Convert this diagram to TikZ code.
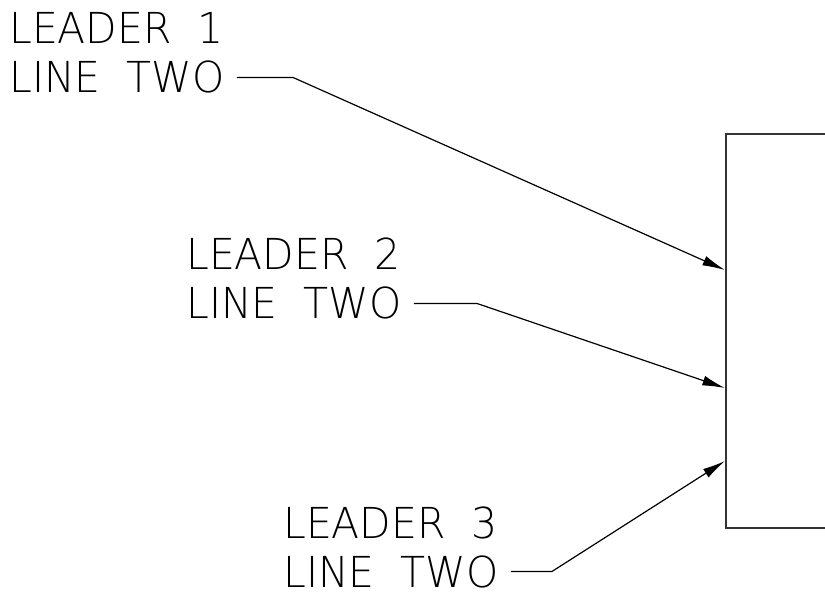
\documentclass[tikz,border=0pt]{standalone}
\usepackage{fontspec}
\setmainfont{DejaVu Sans ExtraLight}[FakeStretch=0.96]
\usetikzlibrary{arrows.meta}
\begin{document}
\begin{tikzpicture}[x=0.75pt, y=-0.75pt,
    etiquette/.style={anchor=base west, inner sep=0pt, font=\fontsize{32}{38}\selectfont},
    fleche/.style={line width=0.9pt, -{Latex[length=17pt,width=7.5pt]}, shorten <=9pt}]
  \clip (0,0) rectangle (825,598);

  % Le cadre
  \node[draw=black!80, line width=1.3pt, minimum width=150pt, minimum height=295.5pt,
        anchor=north west] (cadre) at (725,133) {};

  % Les étiquettes et les flèches
  \foreach \i/\x/\y/\k/\p in {1/9/44/293/270, 2/186/270/477/388, 3/283/538/552/461} {
    \node[etiquette] (l\i) at (\x,\y) {LEADER\ \ \i};
    \node[etiquette] (t\i) at (\x,\y+49) {LINE\ \ TWO};
    \coordinate (k\i) at (\k,0);
    \coordinate (p\i) at (725,\p);
    \draw[fleche] (t\i.east) -- (t\i.east -| k\i) -- (p\i);
  }
\end{tikzpicture}
\end{document}
